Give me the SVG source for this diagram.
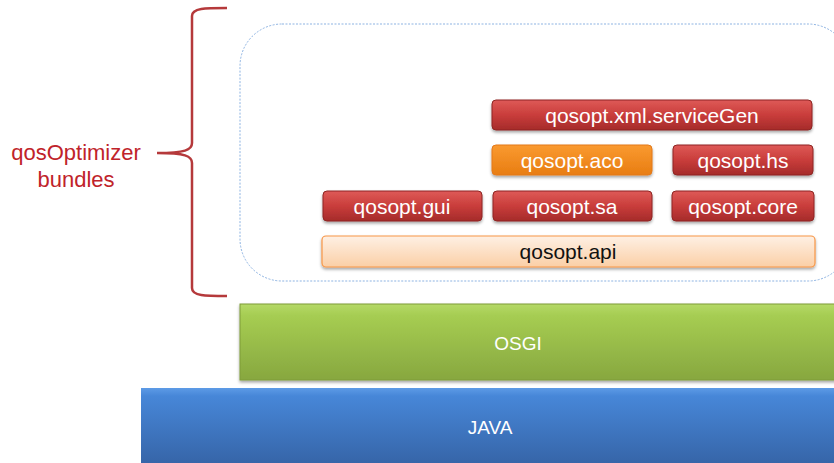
<svg xmlns="http://www.w3.org/2000/svg" width="834" height="463" viewBox="0 0 834 463">
<defs>
<linearGradient id="gRed" x1="0" y1="0" x2="0" y2="1"><stop offset="0" stop-color="#de5a57"/><stop offset="0.5" stop-color="#c93d3b"/><stop offset="1" stop-color="#a52b2a"/></linearGradient>
<linearGradient id="gOrange" x1="0" y1="0" x2="0" y2="1"><stop offset="0" stop-color="#fa9a30"/><stop offset="1" stop-color="#e87d12"/></linearGradient>
<linearGradient id="gApi" x1="0" y1="0" x2="0" y2="1"><stop offset="0" stop-color="#fef0e4"/><stop offset="1" stop-color="#fbcfa6"/></linearGradient>
<linearGradient id="gGreen" x1="0" y1="0" x2="0" y2="1"><stop offset="0" stop-color="#b5d968"/><stop offset="0.15" stop-color="#a6cd52"/><stop offset="1" stop-color="#87a73f"/></linearGradient>
<linearGradient id="gBlue" x1="0" y1="0" x2="0" y2="1"><stop offset="0" stop-color="#5d9be6"/><stop offset="0.1" stop-color="#4787d8"/><stop offset="1" stop-color="#3563a5"/></linearGradient>
<filter id="sh" x="-5%" y="-20%" width="110%" height="150%"><feDropShadow dx="0" dy="2" stdDeviation="1.5" flood-color="#000" flood-opacity="0.35"/></filter>
</defs>
<style>
.red{fill:url(#gRed);stroke:#8e2524;stroke-width:1;filter:url(#sh)}
.org{fill:url(#gOrange);stroke:#e3791a;stroke-width:1;filter:url(#sh)}
.api{fill:url(#gApi);stroke:#f79646;stroke-width:1.2;filter:url(#sh)}
.bt{font-family:"Liberation Sans",Arial,sans-serif;font-size:21px;fill:#fff;text-anchor:middle}
.lt{font-family:"Liberation Sans",Arial,sans-serif;font-size:19px;fill:#fff;text-anchor:middle}
.lbl{font-family:"Liberation Sans",Arial,sans-serif;font-size:22px;fill:#c0232a;text-anchor:middle}
</style>
<g id="java"><rect x="141" y="388" width="700" height="80" fill="url(#gBlue)"/><text class="lt" x="490" y="434">JAVA</text></g>
<g id="osgi"><rect x="240" y="304" width="600" height="76" fill="url(#gGreen)" stroke="#7e9c39" stroke-width="1" filter="url(#sh)"/><text class="lt" x="518" y="350">OSGI</text></g>
<g id="container"><rect x="240" y="24" width="610" height="257" rx="42" ry="42" fill="none" stroke="#8db3e2" stroke-width="1" stroke-dasharray="2,1.5"/></g>
<g id="serviceGen"><rect class="red" x="492" y="100" width="320" height="30" rx="4"/><text class="bt" x="652" y="123">qosopt.xml.serviceGen</text></g>
<g id="aco"><rect class="org" x="492" y="145" width="160" height="30" rx="4"/><text class="bt" x="572" y="168">qosopt.aco</text></g>
<g id="hs"><rect class="red" x="673" y="145" width="140" height="30" rx="4"/><text class="bt" x="743" y="168">qosopt.hs</text></g>
<g id="gui"><rect class="red" x="323" y="191" width="159" height="30" rx="4"/><text class="bt" x="402" y="214">qosopt.gui</text></g>
<g id="sa"><rect class="red" x="493" y="191" width="159" height="30" rx="4"/><text class="bt" x="572" y="214">qosopt.sa</text></g>
<g id="core"><rect class="red" x="672" y="191" width="142" height="30" rx="4"/><text class="bt" x="743" y="214">qosopt.core</text></g>
<g id="api"><rect class="api" x="322" y="236" width="493" height="31" rx="4"/><text class="bt" x="568" y="259" style="fill:#111">qosopt.api</text></g>
<g id="brace"><path d="M227,8 C205,8 192,8 192,16 L192,143 C192,150 185,153 157,153 C185,153 192,156 192,163 L192,288 C192,296 205,296 227,296" fill="none" stroke="#b5393b" stroke-width="2.5"/></g>
<g id="label"><text class="lbl" x="76" y="160">qosOptimizer</text><text class="lbl" x="76" y="187">bundles</text></g>
</svg>
